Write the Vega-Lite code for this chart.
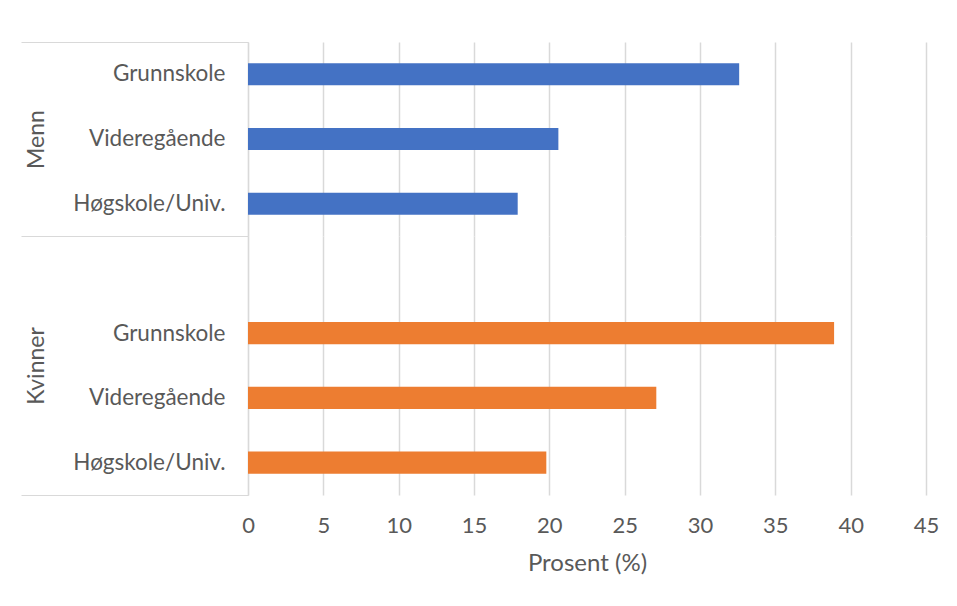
{
  "$schema": "https://vega.github.io/schema/vega-lite/v6.json",
  "padding": {"left": 20, "top": 41, "right": 5, "bottom": 5},
  "background": "white",
  "data": {"values": [
    {"kjonn": "Menn", "utdanning": "Grunnskole", "prosent": 32.6},
    {"kjonn": "Menn", "utdanning": "Videregående", "prosent": 20.6},
    {"kjonn": "Menn", "utdanning": "Høgskole/Univ.", "prosent": 17.9},
    {"kjonn": "Kvinner", "utdanning": "Grunnskole", "prosent": 38.9},
    {"kjonn": "Kvinner", "utdanning": "Videregående", "prosent": 27.1},
    {"kjonn": "Kvinner", "utdanning": "Høgskole/Univ.", "prosent": 19.8}
  ]},
  "spacing": 0,
  "bounds": "flush",
  "vconcat": [
    {
      "width": 678,
      "height": 194,
      "transform": [{"filter": "datum.kjonn === 'Menn'"}],
      "mark": {"type": "bar", "height": {"band": 0.34}, "color": "#4472C4"},
      "encoding": {
        "y": {
          "field": "utdanning", "type": "nominal",
          "scale": {"domain": ["Grunnskole", "Videregående", "Høgskole/Univ."], "paddingInner": 0, "paddingOuter": 0},
          "axis": {
            "title": "Menn", "bandPosition": 0, "tickExtra": false,
            "tickSize": 227, "tickColor": "#d9d9d9", "tickWidth": 1.2,
            "tickOpacity": {"condition": {"test": "datum.value !== 'Grunnskole'", "value": 0}, "value": 1},
            "labelPadding": -204, "titlePadding": 0,
            "domainColor": "#d9d9d9", "domainWidth": 1.2
          }
        },
        "x": {
          "field": "prosent", "type": "quantitative",
          "scale": {"domain": [0, 45], "nice": false},
          "axis": {"labels": false, "ticks": false, "domain": false, "title": null,
                   "values": [0, 5, 10, 15, 20, 25, 30, 35, 40, 45],
                   "grid": true, "gridColor": "#d9d9d9", "gridWidth": 1.5}
        }
      }
    },
    {
      "width": 678,
      "height": 259,
      "transform": [{"filter": "datum.kjonn === 'Kvinner'"}],
      "mark": {"type": "bar", "height": {"band": 0.34}, "color": "#ED7D31"},
      "encoding": {
        "y": {
          "field": "utdanning", "type": "nominal",
          "scale": {"domain": [" ", "Grunnskole", "Videregående", "Høgskole/Univ."], "paddingInner": 0, "paddingOuter": 0},
          "axis": {
            "title": "Kvinner", "tickBand": "extent",
            "tickSize": 227, "tickColor": "#d9d9d9", "tickWidth": 1.2,
            "tickOpacity": {"condition": {"test": "datum.value && datum.value !== 'Høgskole/Univ.'", "value": 0}, "value": 1},
            "labelPadding": -204, "titlePadding": 0,
            "domainColor": "#d9d9d9", "domainWidth": 1.2
          }
        },
        "x": {
          "field": "prosent", "type": "quantitative",
          "scale": {"domain": [0, 45], "nice": false},
          "axis": {"ticks": false, "domain": false, "title": "Prosent (%)",
                   "values": [0, 5, 10, 15, 20, 25, 30, 35, 40, 45],
                   "labelFlush": false, "labelFontSize": 22,
                   "labelPadding": 20, "titlePadding": 15, "titleFontSize": 24,
                   "grid": true, "gridColor": "#d9d9d9", "gridWidth": 1.5}
        }
      }
    }
  ],
  "config": {
    "font": "Lato",
    "view": {"stroke": null},
    "axis": {
      "labelFont": "Lato", "titleFont": "Lato",
      "labelColor": "#595959", "titleColor": "#595959",
      "labelFontSize": 22.5, "titleFontSize": 23, "titleFontWeight": "normal"
    }
  }
}
